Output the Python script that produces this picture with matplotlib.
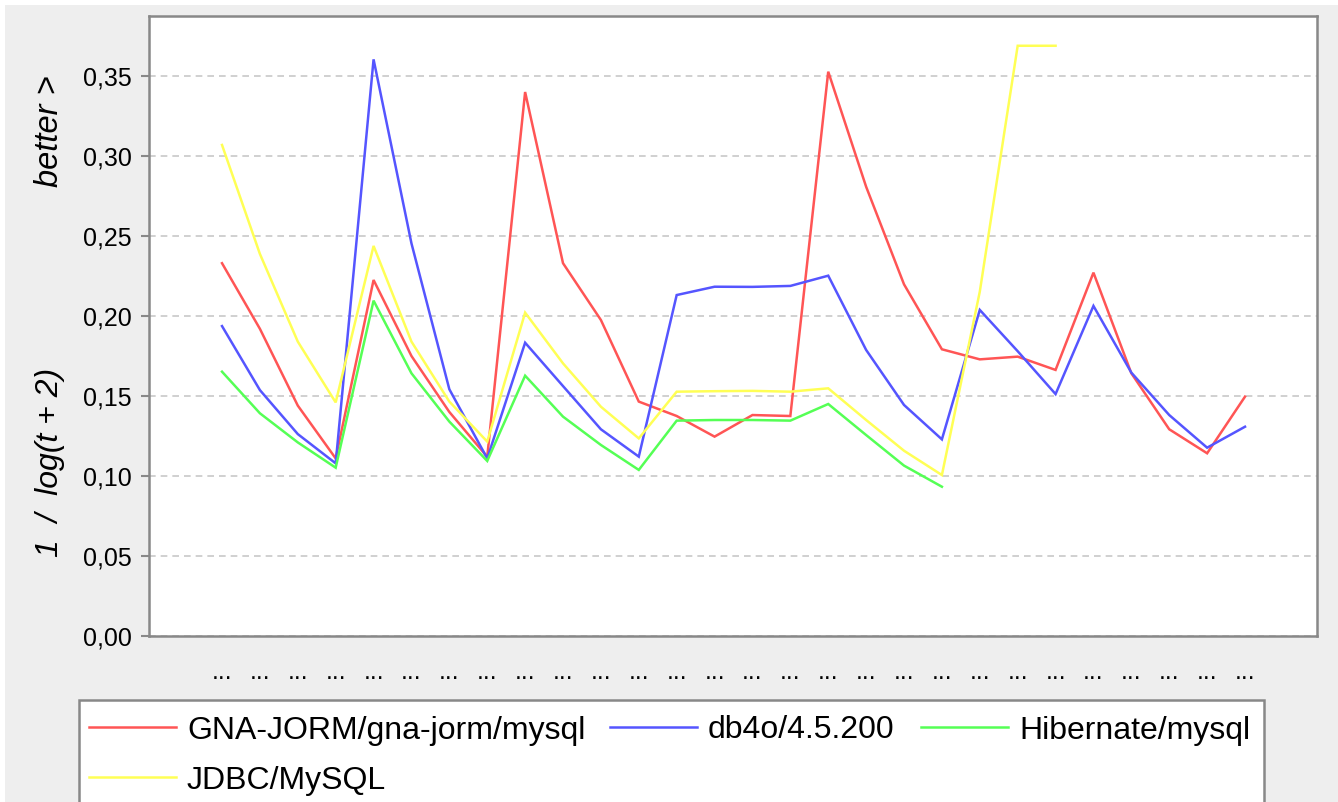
import matplotlib
matplotlib.use("Agg")
import matplotlib.pyplot as plt
from matplotlib.patches import Rectangle
from matplotlib.lines import Line2D
import numpy as np

plt.rcParams['font.family'] = ['Liberation Sans', 'DejaVu Sans']

categories = ["..."] * 28
series_names = ["GNA-JORM/gna-jorm/mysql", "db4o/4.5.200", "Hibernate/mysql", "JDBC/MySQL"]
series_colors = ["#FF5555", "#5555FF", "#55FF55", "#FFFF55"]

gna_jorm = [0.233, 0.192, 0.144, 0.111, 0.2225, 0.175, 0.140, 0.112, 0.340, 0.233,
            0.1975, 0.1465, 0.1375, 0.1246, 0.1381, 0.1375, 0.3527, 0.2808, 0.2198, 0.1792,
            0.1729, 0.1746, 0.1663, 0.2271, 0.1642, 0.1292, 0.1142, 0.1496]
db4o = [0.1937, 0.1537, 0.1262, 0.1079, 0.3604, 0.2454, 0.1542, 0.111, 0.1833, 0.1562,
        0.1292, 0.1121, 0.2131, 0.2183, 0.2182, 0.2188, 0.2252, 0.1788, 0.1444, 0.1229,
        0.2038, 0.178, 0.1512, 0.2063, 0.1646, 0.1381, 0.1177, 0.1308]
hibernate = [0.1652, 0.1392, 0.1210, 0.1052, 0.2096, 0.1642, 0.1340, 0.1094, 0.1627, 0.1371,
             0.1194, 0.1038, 0.1346, 0.135, 0.135, 0.1346, 0.145, 0.1256, 0.1065, 0.0933]
jdbc = [0.3069, 0.2388, 0.1840, 0.1460, 0.2438, 0.184, 0.1465, 0.1215, 0.2021, 0.1704,
        0.1433, 0.1235, 0.1527, 0.153, 0.1532, 0.1527, 0.1548, 0.135, 0.1158, 0.1006,
        0.2152, 0.3689, 0.3689]
series_values = [gna_jorm, db4o, hibernate, jdbc]

W, H = 1338, 802
fig = plt.figure(figsize=(W / 100, H / 100), dpi=100)
fig.patch.set_facecolor("white")
fig.patches.append(Rectangle((5 / W, 0), 1 - 5 / W, 1 - 5 / H, transform=fig.transFigure,
                             facecolor="#EEEEEE", edgecolor="none", zorder=-10))

L, T, R, B = 149, 16, 1317, 636
ax = fig.add_axes([L / W, 1 - B / H, (R - L) / W, (B - T) / H])
ax.set_facecolor("white")

for vals, col in zip(series_values, series_colors):
    ax.plot(np.arange(len(vals)), vals, color=col, lw=1.8, solid_joinstyle="miter")

ax.set_xlim(-1.927, 28.9)
ax.set_ylim(0, 0.3875)
yt = np.arange(0, 0.36, 0.05)
ax.set_yticks(yt)
ax.set_yticklabels([f"{v:.2f}".replace(".", ",") for v in yt], fontsize=18)
ax.set_xticks(np.arange(len(categories)))
ax.set_xticklabels(categories, fontsize=18)
ax.tick_params(axis="x", length=0, pad=17)
ax.tick_params(axis="y", length=6, width=1.5, color="#888888", pad=6.5)
ax.yaxis.grid(True, linestyle=(0, (4, 3)), color="#C8C8C8", lw=1.2)
ax.set_axisbelow(True)
for s in ax.spines.values():
    s.set_color("#888888")
    s.set_linewidth(1.8)

fig.text(50 / W, 1 - 131 / H, "better >", rotation=90, style="italic", fontsize=23.5,
         ha="center", va="center")
fig.text(50 / W, 1 - 462 / H, "1  /  log(t + 2)", rotation=90, style="italic", fontsize=23,
         ha="center", va="center")

# legend box
fig.patches.append(Rectangle((79 / W, -0.05), (1264 - 79) / W, (1 - 700 / H) + 0.05,
                             transform=fig.transFigure, facecolor="white",
                             edgecolor="#888888", lw=1.8, zorder=5))
legend_pos = [(89, 727), (610, 727), (921, 727), (89, 777)]
for (x0, y0), name, col in zip(legend_pos, series_names, series_colors):
    fig.lines.append(Line2D([x0 / W, (x0 + 87) / W], [1 - y0 / H, 1 - y0 / H],
                            transform=fig.transFigure, color=col, lw=1.8, zorder=6))
    fig.text((x0 + 98) / W, 1 - y0 / H, name, fontsize=23, ha="left", va="center_baseline",
             zorder=6)

fig.savefig("out.png", dpi=100)
